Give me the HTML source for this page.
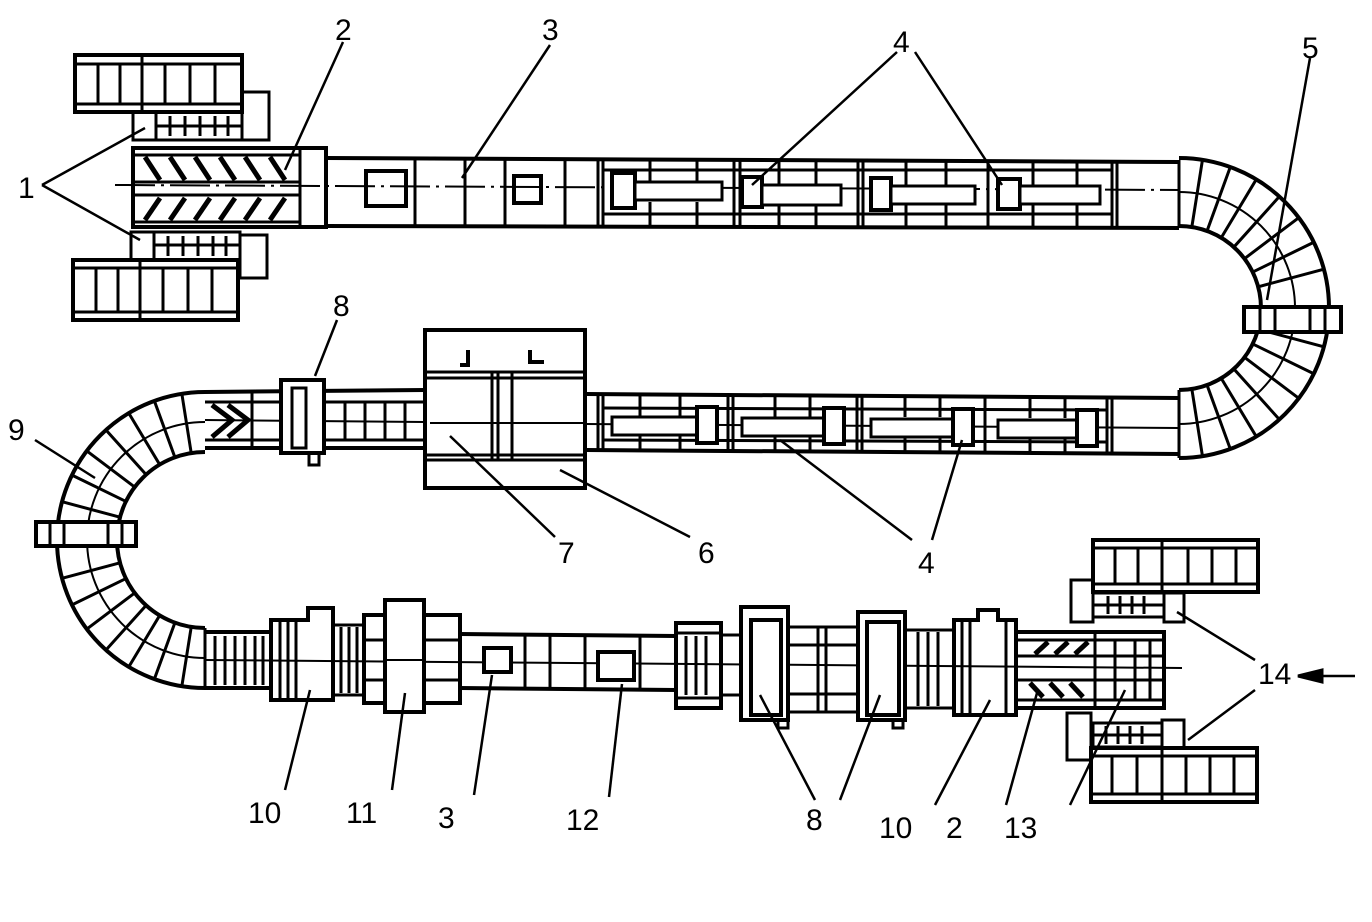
<!DOCTYPE html>
<html><head><meta charset="utf-8"><style>
html,body{margin:0;padding:0;background:#fff;}
svg{display:block}
text{font-family:"Liberation Sans",sans-serif;font-size:30px;fill:#000;}
</style></head><body>
<svg width="1372" height="922" viewBox="0 0 1372 922" xmlns="http://www.w3.org/2000/svg">
<g fill="none" stroke="#000" stroke-width="3">
<rect x="75" y="55" width="167" height="57" stroke-width="4"/>
<line x1="75" y1="64" x2="242" y2="64"/><line x1="75" y1="104" x2="242" y2="104"/>
<line x1="98" y1="64" x2="98" y2="104"/><line x1="120" y1="64" x2="120" y2="104"/><line x1="142" y1="55" x2="142" y2="112"/><line x1="165" y1="64" x2="165" y2="104"/><line x1="190" y1="64" x2="190" y2="104"/><line x1="215" y1="64" x2="215" y2="104"/>
<rect x="242" y="92" width="27" height="48"/>
<rect x="133" y="112" width="109" height="28"/><rect x="133" y="112" width="23" height="28"/>
<line x1="156" y1="126" x2="242" y2="126"/>
<line x1="170" y1="116" x2="170" y2="136"/><line x1="185" y1="116" x2="185" y2="136"/><line x1="200" y1="116" x2="200" y2="136"/><line x1="215" y1="116" x2="215" y2="136"/><line x1="228" y1="116" x2="228" y2="136"/>

<rect x="73" y="260" width="165" height="60" stroke-width="4"/>
<line x1="73" y1="268" x2="238" y2="268"/><line x1="73" y1="312" x2="238" y2="312"/>
<line x1="96" y1="268" x2="96" y2="312"/><line x1="118" y1="268" x2="118" y2="312"/><line x1="140" y1="260" x2="140" y2="320"/><line x1="163" y1="268" x2="163" y2="312"/><line x1="188" y1="268" x2="188" y2="312"/><line x1="212" y1="268" x2="212" y2="312"/>
<rect x="240" y="235" width="27" height="43"/>
<rect x="131" y="232" width="109" height="28"/><rect x="131" y="232" width="23" height="28"/>
<line x1="154" y1="245" x2="240" y2="245"/>
<line x1="168" y1="236" x2="168" y2="256"/><line x1="183" y1="236" x2="183" y2="256"/><line x1="198" y1="236" x2="198" y2="256"/><line x1="213" y1="236" x2="213" y2="256"/><line x1="226" y1="236" x2="226" y2="256"/>

<rect x="133" y="148" width="193" height="79" stroke-width="4"/>
<line x1="135" y1="182" x2="300" y2="182"/><line x1="135" y1="195" x2="300" y2="195"/>
<line x1="300" y1="150" x2="300" y2="225"/>
<line x1="135" y1="155" x2="300" y2="155"/><line x1="135" y1="222" x2="300" y2="222"/>
<g stroke-width="5">
<line x1="145" y1="157" x2="160" y2="180"/><line x1="170" y1="157" x2="185" y2="180"/><line x1="195" y1="157" x2="210" y2="180"/><line x1="220" y1="157" x2="235" y2="180"/><line x1="245" y1="157" x2="260" y2="180"/><line x1="270" y1="157" x2="285" y2="180"/>
<line x1="160" y1="198" x2="145" y2="220"/><line x1="185" y1="198" x2="170" y2="220"/><line x1="210" y1="198" x2="195" y2="220"/><line x1="235" y1="198" x2="220" y2="220"/><line x1="260" y1="198" x2="245" y2="220"/><line x1="285" y1="198" x2="270" y2="220"/>
</g>
<line x1="115" y1="185" x2="1180" y2="190" stroke-width="2" stroke-dasharray="40 6 3 6"/>

<path d="M326,158 L1179,162 M326,226 L1179,228" stroke-width="4"/>
<line x1="415" y1="158" x2="415" y2="226"/><line x1="465" y1="158" x2="465" y2="226"/><line x1="505" y1="158" x2="505" y2="226"/><line x1="565" y1="158" x2="565" y2="226"/>
<line x1="598" y1="159" x2="598" y2="227"/><line x1="603" y1="159" x2="603" y2="227"/>
<line x1="650" y1="159" x2="650" y2="182"/><line x1="650" y1="202" x2="650" y2="227"/>
<line x1="697" y1="159" x2="697" y2="182"/><line x1="697" y1="202" x2="697" y2="227"/>
<line x1="734" y1="159" x2="734" y2="227"/><line x1="740" y1="159" x2="740" y2="227"/>
<line x1="779" y1="159" x2="779" y2="185"/><line x1="779" y1="205" x2="779" y2="227"/>
<line x1="816" y1="159" x2="816" y2="185"/><line x1="816" y1="205" x2="816" y2="227"/>
<line x1="858" y1="160" x2="858" y2="227"/><line x1="863" y1="160" x2="863" y2="227"/>
<line x1="906" y1="160" x2="906" y2="185"/><line x1="906" y1="205" x2="906" y2="227"/>
<line x1="946" y1="160" x2="946" y2="185"/><line x1="946" y1="205" x2="946" y2="227"/>
<line x1="988" y1="160" x2="988" y2="227"/>
<line x1="1033" y1="160" x2="1033" y2="185"/><line x1="1033" y1="205" x2="1033" y2="227"/>
<line x1="1077" y1="160" x2="1077" y2="185"/><line x1="1077" y1="205" x2="1077" y2="227"/>
<line x1="1112" y1="161" x2="1112" y2="228"/><line x1="1117" y1="161" x2="1117" y2="228"/>
<line x1="1179" y1="160" x2="1179" y2="228"/>
<line x1="603" y1="170" x2="1112" y2="170"/><line x1="603" y1="214" x2="1112" y2="214"/>
<rect x="366" y="171" width="40" height="35" stroke-width="4"/>
<rect x="514" y="176" width="27" height="27" stroke-width="4"/>
<rect x="612" y="173" width="23" height="35" stroke-width="4" fill="#fff"/><rect x="635" y="182" width="87" height="18" fill="#fff"/>
<rect x="742" y="177" width="20" height="30" stroke-width="4" fill="#fff"/><rect x="762" y="185" width="79" height="20" fill="#fff"/>
<rect x="871" y="178" width="20" height="32" stroke-width="4" fill="#fff"/><rect x="891" y="186" width="84" height="18" fill="#fff"/>
<rect x="998" y="179" width="22" height="30" stroke-width="4" fill="#fff"/><rect x="1020" y="186" width="80" height="18" fill="#fff"/>

<path d="M1179,158 A150,150 0 0 1 1179,458" stroke-width="4"/>
<path d="M1179,226 A82,82 0 0 1 1179,390" stroke-width="4"/>
<path d="M1179,192 A116,116 0 0 1 1179,424" stroke-width="2"/>
<g transform="translate(1179,308)">
<line x1="82" y1="0" x2="150" y2="0" transform="rotate(-81)"/><line x1="82" y1="0" x2="150" y2="0" transform="rotate(-70)"/><line x1="82" y1="0" x2="150" y2="0" transform="rotate(-59)"/><line x1="82" y1="0" x2="150" y2="0" transform="rotate(-48)"/><line x1="82" y1="0" x2="150" y2="0" transform="rotate(-37)"/><line x1="82" y1="0" x2="150" y2="0" transform="rotate(-26)"/><line x1="82" y1="0" x2="150" y2="0" transform="rotate(-15)"/>
<line x1="82" y1="0" x2="150" y2="0" transform="rotate(15)"/><line x1="82" y1="0" x2="150" y2="0" transform="rotate(26)"/><line x1="82" y1="0" x2="150" y2="0" transform="rotate(37)"/><line x1="82" y1="0" x2="150" y2="0" transform="rotate(48)"/><line x1="82" y1="0" x2="150" y2="0" transform="rotate(59)"/><line x1="82" y1="0" x2="150" y2="0" transform="rotate(70)"/><line x1="82" y1="0" x2="150" y2="0" transform="rotate(81)"/>
</g>
<rect x="1244" y="307" width="97" height="25" fill="#fff" stroke-width="4"/>
<line x1="1260" y1="309" x2="1260" y2="330"/><line x1="1275" y1="309" x2="1275" y2="330"/><line x1="1310" y1="309" x2="1310" y2="330"/><line x1="1325" y1="309" x2="1325" y2="330"/>

<path d="M586,394 L1179,398 M586,450 L1179,454" stroke-width="4"/>
<line x1="586" y1="424" x2="1179" y2="428" stroke-width="2"/>
<line x1="598" y1="394" x2="598" y2="451"/><line x1="603" y1="394" x2="603" y2="451"/>
<line x1="640" y1="395" x2="640" y2="416"/><line x1="640" y1="436" x2="640" y2="451"/>
<line x1="680" y1="395" x2="680" y2="416"/><line x1="680" y1="436" x2="680" y2="451"/>
<line x1="728" y1="395" x2="728" y2="452"/><line x1="733" y1="395" x2="733" y2="452"/>
<line x1="775" y1="395" x2="775" y2="417"/><line x1="775" y1="437" x2="775" y2="452"/>
<line x1="810" y1="395" x2="810" y2="417"/><line x1="810" y1="437" x2="810" y2="452"/>
<line x1="857" y1="396" x2="857" y2="452"/><line x1="862" y1="396" x2="862" y2="452"/>
<line x1="905" y1="396" x2="905" y2="417"/><line x1="905" y1="437" x2="905" y2="452"/>
<line x1="940" y1="396" x2="940" y2="417"/><line x1="940" y1="437" x2="940" y2="452"/>
<line x1="985" y1="396" x2="985" y2="453"/>
<line x1="1030" y1="397" x2="1030" y2="418"/><line x1="1030" y1="438" x2="1030" y2="453"/>
<line x1="1065" y1="397" x2="1065" y2="418"/><line x1="1065" y1="438" x2="1065" y2="453"/>
<line x1="1107" y1="397" x2="1107" y2="454"/><line x1="1112" y1="397" x2="1112" y2="454"/>
<line x1="1179" y1="390" x2="1179" y2="458"/>
<line x1="603" y1="408" x2="1107" y2="410"/><line x1="603" y1="440" x2="1107" y2="442"/>
<rect x="612" y="417" width="87" height="18" fill="#fff"/><rect x="697" y="407" width="20" height="36" stroke-width="4" fill="#fff"/>
<rect x="742" y="418" width="82" height="18" fill="#fff"/><rect x="824" y="408" width="20" height="36" stroke-width="4" fill="#fff"/>
<rect x="871" y="419" width="82" height="18" fill="#fff"/><rect x="953" y="409" width="20" height="36" stroke-width="4" fill="#fff"/>
<rect x="998" y="420" width="82" height="18" fill="#fff"/><rect x="1077" y="410" width="20" height="36" stroke-width="4" fill="#fff"/>

<rect x="425" y="330" width="160" height="158" stroke-width="4"/>
<line x1="425" y1="372" x2="585" y2="372"/><line x1="425" y1="378" x2="585" y2="378"/>
<line x1="425" y1="455" x2="585" y2="455"/><line x1="425" y1="460" x2="585" y2="460"/>
<line x1="492" y1="372" x2="492" y2="460"/><line x1="498" y1="372" x2="498" y2="460"/><line x1="512" y1="372" x2="512" y2="460"/>
<path d="M460,365 L468,365 L468,350 M530,350 L530,362 L544,362" stroke-width="4"/>
<line x1="430" y1="423" x2="585" y2="423" stroke-width="2"/>

<path d="M205,392 L425,390 M205,448 L425,448" stroke-width="4"/>
<line x1="252" y1="392" x2="252" y2="448"/>
<line x1="205" y1="402" x2="282" y2="402"/><line x1="205" y1="440" x2="282" y2="440"/>
<g stroke-width="5">
<path d="M212,405 L232,420 L212,437 M228,405 L248,420 L228,437"/>
</g>
<line x1="205" y1="420" x2="425" y2="422" stroke-width="2"/>
<line x1="324" y1="402" x2="425" y2="402"/><line x1="324" y1="440" x2="425" y2="440"/>
<line x1="345" y1="402" x2="345" y2="440"/><line x1="365" y1="402" x2="365" y2="440"/><line x1="385" y1="402" x2="385" y2="440"/><line x1="405" y1="402" x2="405" y2="440"/>
<rect x="281" y="380" width="43" height="73" fill="#fff" stroke-width="4"/>
<rect x="292" y="388" width="14" height="60" stroke-width="3"/>
<rect x="309" y="453" width="10" height="12"/>

<path d="M205,392 A148,148 0 0 0 205,688" stroke-width="4"/>
<path d="M205,452 A88,88 0 0 0 205,628" stroke-width="4"/>
<path d="M205,422 A118,118 0 0 0 205,658" stroke-width="2"/>
<g transform="translate(205,540)">
<line x1="88" y1="0" x2="148" y2="0" transform="rotate(-99)"/><line x1="88" y1="0" x2="148" y2="0" transform="rotate(-110)"/><line x1="88" y1="0" x2="148" y2="0" transform="rotate(-121)"/><line x1="88" y1="0" x2="148" y2="0" transform="rotate(-132)"/><line x1="88" y1="0" x2="148" y2="0" transform="rotate(-143)"/><line x1="88" y1="0" x2="148" y2="0" transform="rotate(-154)"/><line x1="88" y1="0" x2="148" y2="0" transform="rotate(-165)"/>
<line x1="88" y1="0" x2="148" y2="0" transform="rotate(99)"/><line x1="88" y1="0" x2="148" y2="0" transform="rotate(110)"/><line x1="88" y1="0" x2="148" y2="0" transform="rotate(121)"/><line x1="88" y1="0" x2="148" y2="0" transform="rotate(132)"/><line x1="88" y1="0" x2="148" y2="0" transform="rotate(143)"/><line x1="88" y1="0" x2="148" y2="0" transform="rotate(154)"/><line x1="88" y1="0" x2="148" y2="0" transform="rotate(165)"/>
</g>
<rect x="36" y="522" width="100" height="24" fill="#fff" stroke-width="4"/>
<line x1="50" y1="524" x2="50" y2="544"/><line x1="64" y1="524" x2="64" y2="544"/><line x1="108" y1="524" x2="108" y2="544"/><line x1="122" y1="524" x2="122" y2="544"/>

<path d="M205,632 L271,632 M205,688 L271,688" stroke-width="4"/>
<line x1="205" y1="628" x2="205" y2="688"/>
<line x1="215" y1="636" x2="215" y2="685"/><line x1="225" y1="636" x2="225" y2="685"/><line x1="235" y1="636" x2="235" y2="685"/><line x1="245" y1="636" x2="245" y2="685"/><line x1="255" y1="636" x2="255" y2="685"/><line x1="263" y1="636" x2="263" y2="685"/>
<line x1="205" y1="660" x2="1182" y2="668" stroke-width="2"/>
<path d="M271,620 L308,620 L308,608 L333,608 L333,620 L333,700 L271,700 Z" stroke-width="4"/>
<line x1="280" y1="622" x2="280" y2="698"/><line x1="288" y1="622" x2="288" y2="698"/><line x1="296" y1="622" x2="296" y2="698"/>
<rect x="333" y="625" width="31" height="70"/>
<line x1="341" y1="627" x2="341" y2="693"/><line x1="349" y1="627" x2="349" y2="693"/><line x1="357" y1="627" x2="357" y2="693"/>
<rect x="364" y="615" width="96" height="88" stroke-width="4"/>
<rect x="385" y="600" width="39" height="112" stroke-width="4" fill="#fff"/>
<line x1="364" y1="640" x2="385" y2="640"/><line x1="364" y1="680" x2="385" y2="680"/><line x1="424" y1="640" x2="460" y2="640"/><line x1="424" y1="680" x2="460" y2="680"/>
<line x1="385" y1="660" x2="424" y2="660" stroke-width="2"/>
<path d="M460,634 L676,636 M460,688 L676,690" stroke-width="4"/>
<line x1="525" y1="634" x2="525" y2="689"/><line x1="550" y1="634" x2="550" y2="689"/><line x1="585" y1="635" x2="585" y2="689"/><line x1="640" y1="635" x2="640" y2="690"/>
<rect x="484" y="648" width="27" height="24" stroke-width="4" fill="#fff"/>
<rect x="598" y="652" width="36" height="28" stroke-width="4" fill="#fff"/>
<rect x="676" y="623" width="45" height="85" stroke-width="4"/>
<line x1="676" y1="633" x2="721" y2="633"/><line x1="676" y1="698" x2="721" y2="698"/>
<line x1="686" y1="636" x2="686" y2="695"/><line x1="696" y1="636" x2="696" y2="695"/><line x1="706" y1="636" x2="706" y2="695"/>
<rect x="721" y="635" width="20" height="60"/>
<rect x="741" y="607" width="47" height="113" stroke-width="4" fill="#fff"/>
<rect x="751" y="620" width="30" height="95" stroke-width="4"/>
<rect x="778" y="720" width="10" height="8"/>
<rect x="788" y="627" width="70" height="85"/>
<line x1="788" y1="645" x2="858" y2="645"/><line x1="788" y1="694" x2="858" y2="694"/><line x1="818" y1="627" x2="818" y2="712"/><line x1="826" y1="627" x2="826" y2="712"/>
<rect x="858" y="612" width="47" height="108" stroke-width="4" fill="#fff"/>
<rect x="867" y="622" width="32" height="93" stroke-width="4"/>
<rect x="893" y="720" width="10" height="8"/>
<rect x="905" y="630" width="49" height="78"/>
<line x1="918" y1="632" x2="918" y2="706"/><line x1="928" y1="632" x2="928" y2="706"/><line x1="938" y1="632" x2="938" y2="706"/>
<path d="M954,620 L978,620 L978,610 L998,610 L998,620 L1016,620 L1016,715 L954,715 Z" stroke-width="4"/>
<line x1="962" y1="622" x2="962" y2="713"/><line x1="970" y1="622" x2="970" y2="713"/><line x1="1006" y1="622" x2="1006" y2="713"/>
<rect x="1016" y="632" width="148" height="76" stroke-width="4"/>
<line x1="1016" y1="640" x2="1164" y2="640"/><line x1="1016" y1="700" x2="1164" y2="700"/>
<line x1="1016" y1="656" x2="1164" y2="656"/><line x1="1016" y1="680" x2="1164" y2="680"/>
<line x1="1095" y1="632" x2="1095" y2="708"/>
<g stroke-width="5">
<line x1="1035" y1="654" x2="1048" y2="642"/><line x1="1055" y1="654" x2="1068" y2="642"/><line x1="1075" y1="654" x2="1088" y2="642"/>
<line x1="1030" y1="683" x2="1043" y2="697"/><line x1="1050" y1="683" x2="1063" y2="697"/><line x1="1070" y1="683" x2="1083" y2="697"/>
</g>
<line x1="1115" y1="640" x2="1115" y2="700"/><line x1="1135" y1="640" x2="1135" y2="700"/><line x1="1150" y1="640" x2="1150" y2="700"/>

<rect x="1093" y="540" width="165" height="52" stroke-width="4"/>
<line x1="1093" y1="548" x2="1258" y2="548"/><line x1="1093" y1="584" x2="1258" y2="584"/>
<line x1="1115" y1="548" x2="1115" y2="584"/><line x1="1138" y1="548" x2="1138" y2="584"/><line x1="1162" y1="540" x2="1162" y2="592"/><line x1="1188" y1="548" x2="1188" y2="584"/><line x1="1212" y1="548" x2="1212" y2="584"/><line x1="1236" y1="548" x2="1236" y2="584"/>
<rect x="1071" y="580" width="22" height="42"/>
<rect x="1093" y="593" width="71" height="24"/><rect x="1164" y="593" width="20" height="29"/>
<line x1="1093" y1="605" x2="1164" y2="605"/>
<line x1="1108" y1="596" x2="1108" y2="614"/><line x1="1120" y1="596" x2="1120" y2="614"/><line x1="1132" y1="596" x2="1132" y2="614"/><line x1="1144" y1="596" x2="1144" y2="614"/>

<rect x="1091" y="748" width="166" height="54" stroke-width="4"/>
<line x1="1091" y1="756" x2="1257" y2="756"/><line x1="1091" y1="794" x2="1257" y2="794"/>
<line x1="1112" y1="756" x2="1112" y2="794"/><line x1="1137" y1="756" x2="1137" y2="794"/><line x1="1162" y1="748" x2="1162" y2="802"/><line x1="1186" y1="756" x2="1186" y2="794"/><line x1="1210" y1="756" x2="1210" y2="794"/><line x1="1234" y1="756" x2="1234" y2="794"/>
<rect x="1067" y="713" width="24" height="47"/>
<rect x="1093" y="723" width="69" height="24"/><rect x="1162" y="720" width="22" height="28"/>
<line x1="1093" y1="735" x2="1162" y2="735"/>
<line x1="1106" y1="726" x2="1106" y2="744"/><line x1="1118" y1="726" x2="1118" y2="744"/><line x1="1130" y1="726" x2="1130" y2="744"/><line x1="1142" y1="726" x2="1142" y2="744"/>

<g stroke-width="2.5">
<path d="M42,185 L145,128 M42,185 L140,240"/>
<path d="M285,170 L343,42"/>
<path d="M462,178 L550,45"/>
<path d="M752,185 L897,52 M1002,185 L915,52"/>
<path d="M1267,300 L1310,58"/>
<path d="M315,376 L337,320"/>
<path d="M95,478 L35,440"/>
<path d="M450,436 L555,537"/>
<path d="M560,470 L690,537"/>
<path d="M780,440 L912,540 M962,440 L932,540"/>
<path d="M310,690 L285,790"/>
<path d="M405,693 L392,790"/>
<path d="M492,675 L474,795"/>
<path d="M622,684 L609,797"/>
<path d="M760,695 L815,800 M880,695 L840,800"/>
<path d="M990,700 L935,805"/>
<path d="M1037,693 L1006,805"/>
<path d="M1125,690 L1070,805"/>
<path d="M1177,612 L1255,660 M1188,740 L1255,690"/>
</g>
<path d="M1355,676 L1310,676" stroke-width="2.5"/>
<path d="M1298,676 L1322,670 L1322,682 Z" fill="#000"/>
</g>

<g>
<text x="18" y="198">1</text>
<text x="335" y="40">2</text>
<text x="542" y="40">3</text>
<text x="893" y="52">4</text>
<text x="1302" y="58">5</text>
<text x="333" y="316">8</text>
<text x="8" y="440">9</text>
<text x="558" y="563">7</text>
<text x="698" y="563">6</text>
<text x="918" y="573">4</text>
<text x="248" y="823">10</text>
<text x="346" y="823">11</text>
<text x="438" y="828">3</text>
<text x="566" y="830">12</text>
<text x="806" y="830">8</text>
<text x="879" y="838">10</text>
<text x="946" y="838">2</text>
<text x="1004" y="838">13</text>
<text x="1258" y="684">14</text>
</g>
</svg>
</body></html>
